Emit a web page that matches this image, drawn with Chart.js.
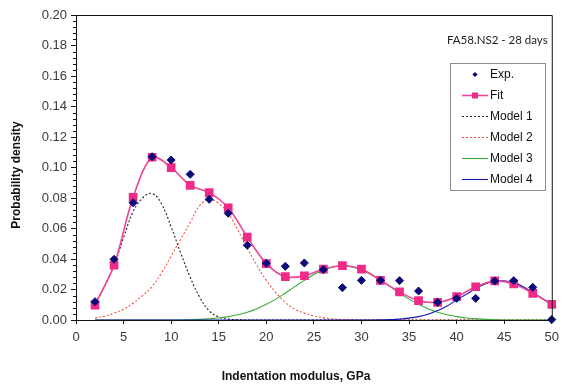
<!DOCTYPE html>
<html>
<head>
<meta charset="utf-8">
<script src="https://cdn.jsdelivr.net/npm/chart.js@4.4.1/dist/chart.umd.min.js"></script>
<style>
  html, body { margin: 0; padding: 0; background: #fff; }
  #wrap { width: 565px; height: 387px; position: relative; }
</style>
</head>
<body>
<div id="wrap"><canvas id="chart"></canvas></div>
<script>
// Indentation modulus (GPa) of the measured / fitted histogram bins
const binModulus = [2, 4, 6, 8, 10, 12, 14, 16, 18, 20, 22, 24, 26, 28, 30, 32, 34, 36, 38, 40, 42, 44, 46, 48, 50];
// Experimental probability density
const expDensity = [0.0120, 0.0398, 0.0769, 0.1071, 0.1049, 0.0955, 0.0791, 0.0700, 0.0490, 0.0372, 0.0352, 0.0374, 0.0330,
                    0.0212, 0.0260, 0.0260, 0.0258, 0.0190, 0.0116, 0.0142, 0.0142, 0.0256, 0.0258, 0.0214, 0.0003];
// Fitted (sum of the four phases) probability density
const fitDensity = [0.0098, 0.0360, 0.0804, 0.1067, 0.0999, 0.0883, 0.0835, 0.0736, 0.0544, 0.0370, 0.0284, 0.0290, 0.0334,
                    0.0356, 0.0334, 0.0260, 0.0184, 0.0127, 0.0116, 0.0153, 0.0218, 0.0256, 0.0236, 0.0175, 0.0103];

// Modulus grid on which the individual phase curves are drawn (2 ... 50 GPa)
const curveModulus = [2, 3, 4, 5, 6, 7, 8, 9, 10, 11, 12, 13, 14, 15, 16, 17, 18, 19, 20, 21, 22, 23, 24, 25, 26,
                      27, 28, 29, 30, 31, 32, 33, 34, 35, 36, 37, 38, 39, 40, 41, 42, 43, 44, 45, 46, 47, 48, 49, 50];
const model1 = [0.0110, 0.0220, 0.0360, 0.0540, 0.0710, 0.0800, 0.0830, 0.0760, 0.0610, 0.0440, 0.0280, 0.0150, 0.0060,
                0.0020, 0.0006, 0.0002, 0, 0, 0, 0, 0, 0, 0, 0, 0, 0, 0, 0, 0, 0, 0, 0, 0, 0, 0, 0, 0, 0, 0, 0, 0, 0, 0,
                0, 0, 0, 0, 0, 0];
const model2 = [0.0013, 0.0025, 0.0045, 0.0070, 0.0110, 0.0160, 0.0220, 0.0310, 0.0420, 0.0530, 0.0640, 0.0750, 0.0790,
                0.0765, 0.0700, 0.0590, 0.0470, 0.0360, 0.0260, 0.0180, 0.0115, 0.0070, 0.0045, 0.0027, 0.0014, 0.0007,
                0.0003, 0.0001, 0, 0, 0, 0, 0, 0, 0, 0, 0, 0, 0, 0, 0, 0, 0, 0, 0, 0, 0, 0, 0];
const model3 = [0, 0, 0, 0, 0, 0, 0, 0, 0, 0, 0.0002, 0.0004, 0.0008, 0.0013, 0.0022, 0.0034, 0.0051, 0.0074, 0.0103,
                0.0137, 0.0177, 0.0219, 0.0260, 0.0298, 0.0328, 0.0348, 0.0355, 0.0348, 0.0328, 0.0298, 0.0260, 0.0219,
                0.0177, 0.0137, 0.0103, 0.0074, 0.0051, 0.0034, 0.0022, 0.0013, 0.0008, 0.0004, 0.0002, 0, 0, 0, 0, 0, 0];
const model4 = [0, 0, 0, 0, 0, 0, 0, 0, 0, 0, 0, 0, 0, 0, 0, 0, 0, 0, 0, 0, 0, 0, 0, 0, 0, 0, 0, 0, 0, 0,
                0.0001, 0.0003, 0.0006, 0.0012, 0.0022, 0.0038, 0.0062, 0.0092, 0.0132, 0.0168, 0.0206, 0.0236, 0.0254,
                0.0257, 0.0245, 0.0218, 0.0181, 0.0142, 0.0103];

// Axis ticks
const xTicks = [0, 5, 10, 15, 20, 25, 30, 35, 40, 45, 50];
const yTicks = [0, 0.02, 0.04, 0.06, 0.08, 0.10, 0.12, 0.14, 0.16, 0.18, 0.20];

const SANS = "'Liberation Sans', Arial, sans-serif";
Chart.defaults.font.family = SANS;

const pts = (xs, ys) => xs.map((x, i) => ({ x, y: ys[i] }));

const NAVY = '#0a0a78';
const PINK = '#ef2b88';

const series = [
  { label: 'Exp.', data: pts(binModulus, expDensity), showLine: false, pointStyle: 'rectRot',
    pointRadius: 4, pointBackgroundColor: NAVY, pointBorderColor: NAVY, borderColor: NAVY, backgroundColor: NAVY,
    clip: false, order: 0 },
  { label: 'Fit', data: pts(binModulus, fitDensity), showLine: true, tension: 0.33, borderColor: '#ec4596',
    borderWidth: 1.6, pointStyle: 'rect', pointRadius: 5, pointBackgroundColor: PINK, pointBorderColor: PINK,
    backgroundColor: PINK, clip: false, order: 1 },
  { label: 'Model 4', data: pts(curveModulus, model4), showLine: true, tension: 0.4, borderColor: '#1414b4',
    borderWidth: 1.1, pointRadius: 0, order: 2 },
  { label: 'Model 3', data: pts(curveModulus, model3), showLine: true, tension: 0.4, borderColor: '#3aac3a',
    borderWidth: 1.1, pointRadius: 0, order: 3 },
  { label: 'Model 2', data: pts(curveModulus, model2), showLine: true, tension: 0.4, borderColor: '#f2503c',
    borderWidth: 1.1, borderDash: [2, 2], pointRadius: 0, order: 4 },
  { label: 'Model 1', data: pts(curveModulus, model1), showLine: true, tension: 0.4, borderColor: '#1e1e1e',
    borderWidth: 1.1, borderDash: [2, 2], pointRadius: 0, order: 5 }
];

const legendOrder = ['Exp.', 'Fit', 'Model 1', 'Model 2', 'Model 3', 'Model 4'];

// Frame, minor ticks, inline legend and captions
const decorations = {
  id: 'decorations',
  afterDraw(chart) {
    const { ctx, chartArea: a, scales: { y } } = chart;
    ctx.save();

    // top and right frame lines
    ctx.strokeStyle = '#111';
    ctx.lineWidth = 1;
    ctx.beginPath();
    ctx.moveTo(a.left, a.top + 0.5);
    ctx.lineTo(a.right + 0.5, a.top + 0.5);
    ctx.lineTo(a.right + 0.5, a.bottom);
    ctx.stroke();

    // minor ticks on the density axis
    ctx.beginPath();
    for (let k = 1; k < 50; k++) {
      if (k % 5 === 0) continue;
      const py = Math.round(y.getPixelForValue(k * 0.004)) + 0.5;
      ctx.moveTo(a.left - 3, py);
      ctx.lineTo(a.left, py);
    }
    ctx.stroke();

    // sample caption
    ctx.fillStyle = '#222';
    ctx.font = "11.5px Lato, 'Open Sans', sans-serif";
    ctx.textBaseline = 'middle';
    ctx.textAlign = 'left';
    ctx.fillText('FA58.NS2 - 28 days', 447, 40);

    // legend box
    const bx = 450.5, by = 63.5, bw = 95, bh = 127;
    ctx.fillStyle = '#fff';
    ctx.fillRect(bx, by, bw, bh);
    ctx.strokeStyle = '#8c8c8c';
    ctx.strokeRect(bx, by, bw, bh);

    ctx.font = '12px ' + SANS;
    legendOrder.forEach((name, i) => {
      const ds = chart.data.datasets.find(d => d.label === name);
      const cy = 74 + i * 21;
      const x0 = 462, x1 = 488, xm = 475;
      if (ds.showLine) {
        ctx.save();
        ctx.strokeStyle = ds.borderColor;
        ctx.lineWidth = ds.borderWidth;
        ctx.setLineDash(ds.borderDash || []);
        ctx.beginPath();
        ctx.moveTo(x0, cy + 0.5);
        ctx.lineTo(x1, cy + 0.5);
        ctx.stroke();
        ctx.restore();
      }
      if (ds.pointRadius > 0) {
        ctx.fillStyle = ds.pointBackgroundColor;
        ctx.beginPath();
        if (ds.pointStyle === 'rectRot') {
          ctx.moveTo(xm, cy - 2.1); ctx.lineTo(xm + 2.6, cy + 0.5); ctx.lineTo(xm, cy + 3.1); ctx.lineTo(xm - 2.6, cy + 0.5);
        } else {
          ctx.rect(xm - 3, cy - 2.5, 6, 6);
        }
        ctx.closePath();
        ctx.fill();
      }
      ctx.fillStyle = '#111';
      ctx.fillText(name, 490, cy + 1);
    });

    // axis titles
    ctx.fillStyle = '#111';
    ctx.font = 'bold 12px ' + SANS;
    ctx.textAlign = 'center';
    ctx.fillText('Indentation modulus, GPa', 296, 377);
    ctx.translate(17, 175);
    ctx.rotate(-Math.PI / 2);
    ctx.fillText('Probability density', 0, 0);

    ctx.restore();
  }
};

new Chart(document.getElementById('chart'), {
  type: 'scatter',
  data: { datasets: series },
  options: {
    responsive: true,
    maintainAspectRatio: false,
    animation: false,
    layout: { padding: { top: 15, right: 7, left: 0, bottom: 0 } },
    plugins: { legend: { display: false }, tooltip: { enabled: false } },
    scales: {
      x: {
        type: 'linear', min: 0, max: 50,
        afterBuildTicks: s => { s.ticks = xTicks.map(v => ({ value: v })); },
        afterFit: s => { s.height = 67; },
        ticks: { color: '#3a3a3a', font: { size: 13 }, padding: 6, maxRotation: 0 },
        grid: { drawOnChartArea: false, drawTicks: true, tickLength: 4, color: '#111' },
        border: { display: true, color: '#111', width: 1 }
      },
      y: {
        type: 'linear', min: 0, max: 0.2,
        afterBuildTicks: s => { s.ticks = yTicks.map(v => ({ value: v })); },
        afterFit: s => { s.width = 76; },
        ticks: { color: '#3a3a3a', font: { size: 13 }, padding: 4, callback: v => Number(v).toFixed(2) },
        grid: { drawOnChartArea: false, drawTicks: true, tickLength: 5, color: '#111' },
        border: { display: true, color: '#111', width: 1 }
      }
    }
  },
  plugins: [decorations]
});
</script>
</body>
</html>
